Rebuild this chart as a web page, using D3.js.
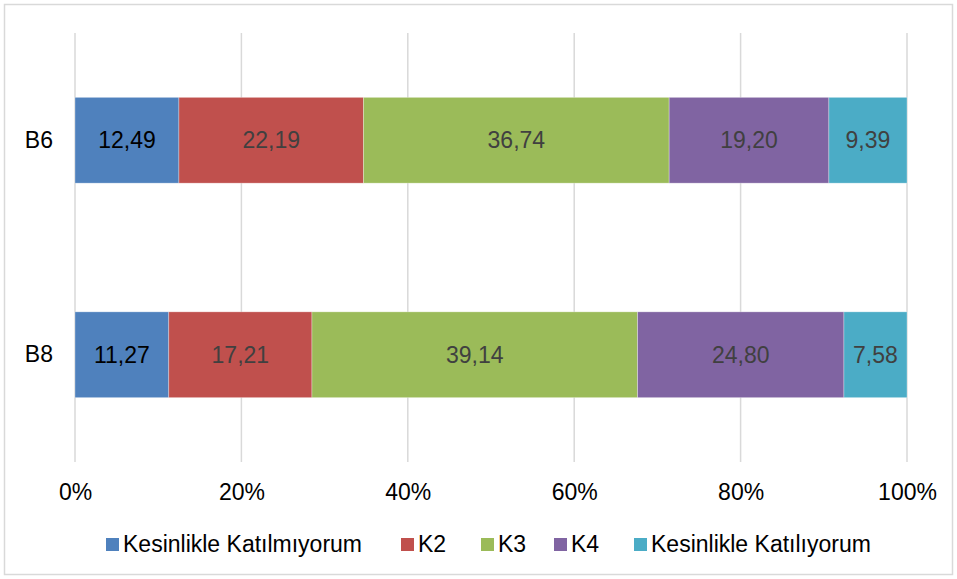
<!DOCTYPE html>
<html>
<head>
<meta charset="utf-8">
<script src="https://cdn.jsdelivr.net/npm/d3@7"></script>
<style>
  body { margin: 0; background: #fff; }
  text { font-family: "Liberation Sans", Arial, sans-serif; }
</style>
</head>
<body>
<div id="chart"></div>
<script>
'use strict';

var categories = ["B6", "B8"];
var seriesNames = ["Kesinlikle Katılmıyorum", "K2", "K3", "K4", "Kesinlikle Katılıyorum"];
var seriesColors = ["#4F81BD", "#C0504D", "#9BBB59", "#8064A2", "#4BACC6"];
var labelColors = ["#000000", "#404040", "#404040", "#404040", "#404040"];
var valuesB6 = [12.49, 22.19, 36.74, 19.20, 9.39];
var valuesB8 = [11.27, 17.21, 39.14, 24.80, 7.58];
var tickValues = [0, 0.2, 0.4, 0.6, 0.8, 1.0];

var width = 957, height = 579;
var plotLeft = 75, plotRight = 907, plotTop = 33, plotBottom = 462;
var fontSize = "23px";

var svg = d3.select("#chart")
    .append("svg")
    .attr("width", width)
    .attr("height", height);

// chart border
svg.append("rect")
    .attr("x", 4.5).attr("y", 4.5)
    .attr("width", width - 9).attr("height", height - 9)
    .style("fill", "#fff")
    .style("stroke", "#d9d9d9")
    .style("stroke-width", 1.5);

var x = d3.scaleLinear().domain([0, 1]).range([plotLeft, plotRight]);
var y = d3.scaleBand().domain(categories).range([plotTop, plotBottom]).paddingInner(0.6).paddingOuter(0.3);

// gridlines
svg.selectAll("line.grid")
    .data(tickValues)
    .enter()
    .append("line")
    .attr("class", "grid")
    .attr("x1", function (d) { return x(d); })
    .attr("x2", function (d) { return x(d); })
    .attr("y1", plotTop)
    .attr("y2", plotBottom)
    .style("stroke", "#d9d9d9")
    .style("stroke-width", 1.5);

// x tick labels
var xAxis = d3.axisBottom(x).tickValues(tickValues).tickFormat(d3.format(".0%")).tickSize(0).tickPadding(0);
var xg = svg.append("g").attr("transform", "translate(0," + 492 + ")").call(xAxis);
xg.select(".domain").remove();
xg.selectAll("text")
    .attr("dy", "0.35em")
    .style("font-size", fontSize)
    .style("fill", "#000")
    .style("font-family", "'Liberation Sans', Arial, sans-serif");

// category labels
var yAxis = d3.axisLeft(y).tickSize(0).tickPadding(0);
var yg = svg.append("g").attr("transform", "translate(" + 53 + ",0)").call(yAxis);
yg.select(".domain").remove();
yg.selectAll("text")
    .style("font-size", fontSize)
    .style("fill", "#000")
    .style("font-family", "'Liberation Sans', Arial, sans-serif");

// stacked bars
var rows = [valuesB6, valuesB8].map(function (vals, i) {
    var total = d3.sum(vals);
    var acc = 0;
    return vals.map(function (v, j) {
        var seg = {cat: categories[i], idx: j, value: v, x0: acc / total, x1: (acc + v) / total};
        acc += v;
        return seg;
    });
});
var segments = [].concat.apply([], rows);

svg.selectAll("rect.seg")
    .data(segments)
    .enter()
    .append("rect")
    .attr("class", "seg")
    .attr("x", function (d) { return x(d.x0); })
    .attr("width", function (d) { return x(d.x1) - x(d.x0); })
    .attr("y", function (d) { return y(d.cat); })
    .attr("height", y.bandwidth())
    .style("fill", function (d) { return seriesColors[d.idx]; })
    .style("stroke", "#ffffff")
    .style("stroke-opacity", 0.4)
    .style("stroke-width", 0.75);

svg.selectAll("text.seglabel")
    .data(segments)
    .enter()
    .append("text")
    .attr("class", "seglabel")
    .attr("x", function (d) { return (x(d.x0) + x(d.x1)) / 2; })
    .attr("y", function (d) { return y(d.cat) + y.bandwidth() / 2; })
    .attr("dy", "0.35em")
    .style("text-anchor", "middle")
    .style("font-size", fontSize)
    .style("fill", function (d) { return labelColors[d.idx]; })
    .text(function (d) { return d.value.toFixed(2).replace(".", ","); });

// legend
var legendX = [106, 401, 481, 554, 634];
var legend = svg.selectAll("g.legend")
    .data(seriesNames)
    .enter()
    .append("g")
    .attr("class", "legend")
    .attr("transform", function (d, i) { return "translate(" + legendX[i] + "," + 544 + ")"; });

legend.append("rect")
    .attr("x", 0).attr("y", -6)
    .attr("width", 13).attr("height", 13)
    .style("fill", function (d, i) { return seriesColors[i]; });

legend.append("text")
    .attr("x", 17)
    .attr("dy", "0.35em")
    .style("font-size", fontSize)
    .style("fill", "#000")
    .text(function (d) { return d; });
</script>
</body>
</html>
